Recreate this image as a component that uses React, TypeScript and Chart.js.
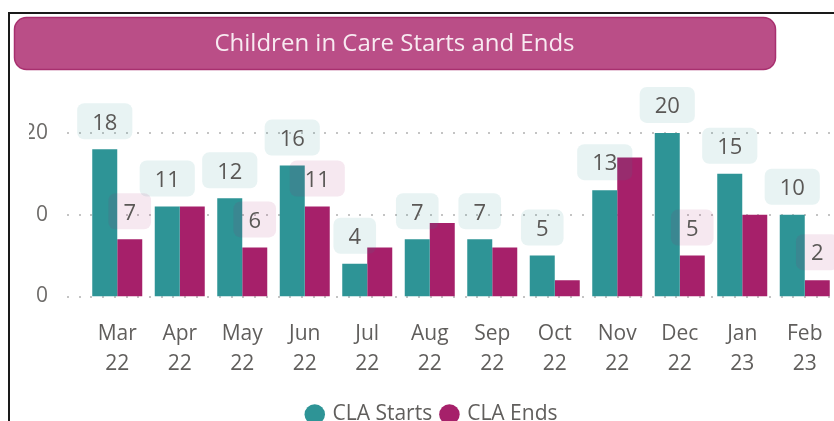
import React, { useEffect, useRef } from "react";
import { Chart, registerables } from "chart.js";

Chart.register(...registerables);

// ---- data ----
const monthLabels: string[][] = [
  ["Mar", "22"], ["Apr", "22"], ["May", "22"], ["Jun", "22"], ["Jul", "22"], ["Aug", "22"],
  ["Sep", "22"], ["Oct", "22"], ["Nov", "22"], ["Dec", "22"], ["Jan", "23"], ["Feb", "23"],
];
const claStarts: number[] = [18, 11, 12, 16, 4, 7, 7, 5, 13, 20, 15, 10];
const claEnds: number[] = [7, 11, 6, 11, 6, 9, 6, 2, 17, 5, 10, 2];
const endsLabelShown: boolean[] = [true, false, true, true, false, false, false, false, false, true, false, true];
const yTickValues: number[] = [0, 10, 20];
const yTickLabels: string[] = ["0", "0", "20"];
const titleText = "Children in Care Starts and Ends";
const seriesNames: string[] = ["CLA Starts", "CLA Ends"];

// ---- style ----
const FONT = "'Open Sans', 'Noto Sans', sans-serif";
const TEAL = "#2E9496";
const MAGENTA = "#A6206A";
const TEXT_GREY = "#605E5C";

const titlePlugin = {
  id: "bannerTitle",
  beforeDraw(chart: any) {
    const ctx = chart.ctx;
    ctx.save();
    ctx.beginPath();
    ctx.roundRect(14.5, 17.5, 761, 52, 12);
    ctx.fillStyle = "#BA4E87";
    ctx.fill();
    ctx.lineWidth = 1.5;
    ctx.strokeStyle = "#A8306F";
    ctx.stroke();
    ctx.fillStyle = "#F8EAF1";
    ctx.font = `24px ${FONT}`;
    ctx.textAlign = "center";
    ctx.textBaseline = "middle";
    ctx.fillText(titleText, 394.5, 44);
    ctx.restore();
  },
};

const dotGridPlugin = {
  id: "dotGrid",
  beforeDatasetsDraw(chart: any) {
    const ctx = chart.ctx;
    const yScale = chart.scales.y;
    ctx.save();
    ctx.fillStyle = "#C4C4C4";
    for (const v of yTickValues) {
      const y = Math.round(yScale.getPixelForValue(v));
      for (let x = 67; x < 840; x += 11.7) {
        ctx.fillRect(Math.round(x), y - 1, 2, 2);
      }
    }
    ctx.restore();
  },
};

const labelPlugin = {
  id: "boxLabels",
  afterDatasetsDraw(chart: any) {
    const ctx = chart.ctx;
    ctx.save();
    ctx.font = `22px ${FONT}`;
    ctx.textAlign = "center";
    ctx.textBaseline = "middle";
    const fills = ["rgba(46,148,150,0.11)", "rgba(166,32,106,0.10)"];
    chart.data.datasets.forEach((ds: any, di: number) => {
      const meta = chart.getDatasetMeta(di);
      meta.data.forEach((bar: any, i: number) => {
        if (di === 1 && !endsLabelShown[i]) return;
        const txt = String(ds.data[i]);
        const w = ctx.measureText(txt).width + 30;
        const h = 36;
        const bottom = bar.y - 10;
        ctx.beginPath();
        ctx.roundRect(bar.x - w / 2, bottom - h, w, h, 7);
        ctx.fillStyle = fills[di];
        ctx.fill();
        ctx.fillStyle = "#5A5856";
        ctx.fillText(txt, bar.x, bottom - h / 2 + 2);
      });
    });
    ctx.restore();
  },
};

export default function App() {
  const ref = useRef<HTMLCanvasElement | null>(null);

  useEffect(() => {
    if (!ref.current) return;
    const chart = new Chart(ref.current, {
      type: "bar",
      data: {
        labels: monthLabels,
        datasets: [
          { label: seriesNames[0], data: claStarts, backgroundColor: TEAL, borderWidth: 0 },
          { label: seriesNames[1], data: claEnds, backgroundColor: MAGENTA, borderWidth: 0 },
        ],
      },
      options: {
        responsive: false,
        animation: false,
        events: [],
        datasets: { bar: { barPercentage: 1.0, categoryPercentage: 0.8 } },
        layout: { padding: { left: 29, right: 14, top: 92, bottom: 0 } },
        scales: {
          x: {
            grid: { display: false, drawTicks: false },
            border: { display: false },
            ticks: {
              color: TEXT_GREY,
              font: { family: FONT, size: 21, lineHeight: 1.4 },
              padding: 23,
              maxRotation: 0,
              autoSkip: false,
            },
            afterFit(scale: any) {
              scale.height = 97.5;
            },
          },
          y: {
            min: 0,
            max: 25,
            grid: { display: false, drawTicks: false },
            border: { display: false },
            afterBuildTicks(scale: any) {
              scale.ticks = yTickValues.map((v) => ({ value: v }));
            },
            ticks: {
              color: "#6E6C6A",
              font: { family: FONT, size: 21 },
              padding: 38,
              callback: (value: any) => {
                const idx = yTickValues.indexOf(Number(value));
                return idx >= 0 ? yTickLabels[idx] : "";
              },
            },
            afterFit(scale: any) {
              scale.width = 57;
            },
          },
        },
        plugins: {
          title: { display: false },
          tooltip: { enabled: false },
          legend: {
            display: true,
            position: "bottom",
            labels: {
              usePointStyle: true,
              pointStyle: "circle",
              boxWidth: 14.5,
              boxHeight: 14.5,
              padding: 10,
              color: TEXT_GREY,
              font: { family: FONT, size: 21 },
            },
          },
        },
      },
      plugins: [titlePlugin, dotGridPlugin, labelPlugin],
    } as any);
    return () => chart.destroy();
  }, []);

  return (
    <div
      style={{
        position: "fixed",
        left: 0,
        top: 0,
        width: 834,
        height: 421,
        overflow: "hidden",
        background: "#fff",
      }}
    >
      <div
        style={{
          position: "absolute",
          left: 8,
          top: 12,
          width: 900,
          height: 500,
          borderTop: "2px solid #1a1a1a",
          borderLeft: "2px solid #1a1a1a",
        }}
      />
      <canvas
        ref={ref}
        width={850}
        height={435}
        style={{ position: "absolute", left: 0, top: 0, display: "block" }}
      />
    </div>
  );
}
